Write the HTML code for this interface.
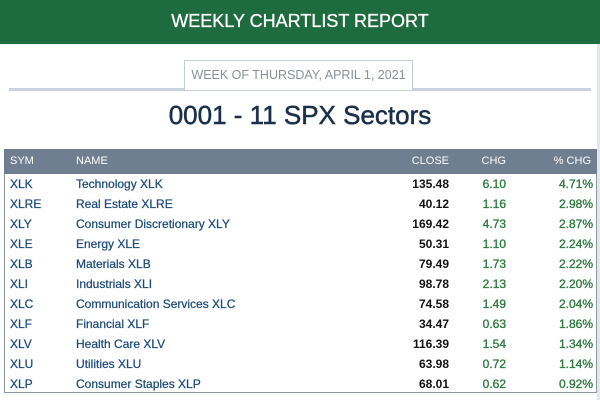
<!DOCTYPE html>
<html><head><meta charset="utf-8"><style>
body{margin:0;width:600px;height:400px;background:#fff;font-family:"Liberation Sans",sans-serif;overflow:hidden;position:relative}
#hdr{position:absolute;left:0;top:0;width:600px;height:44px;background:#1e6b3f;color:#fff;font-size:18px;text-align:center;line-height:42px;-webkit-text-stroke:0.3px #fff}
#rs{position:absolute;right:0;top:44px;width:3px;height:356px;background:#e4e6e8}
#rule{position:absolute;left:9px;top:88px;width:582px;height:3px;background:#c9d1da}
#date{position:absolute;left:184px;top:60px;width:227px;height:29px;border:1px solid #c3ccd6;border-bottom:none;background:#fff;color:#8a9099;font-size:12.5px;text-align:center;line-height:29px}
#title{position:absolute;left:0;width:600px;top:100px;text-align:center;font-size:26px;color:#1b2f4a;-webkit-text-stroke:0.5px #1b2f4a}
#tbl{position:absolute;left:4px;top:149px;width:591px;height:243px;border:1px solid #8c97a3;border-top:none}
#th{position:absolute;left:4px;top:149px;width:593px;height:25px;background:#6f7e90;color:#fff;font-size:11px}
.c{position:absolute}
.row{position:absolute;left:0;width:600px;height:20px;font-size:12px;line-height:20px}
.sym,.nm{color:#1d4a7a;-webkit-text-stroke:0.25px #1d4a7a}.cl{color:#111;font-weight:bold}.g{color:#2c7a3e;-webkit-text-stroke:0.35px #2c7a3e}
</style></head><body>
<div id="hdr">WEEKLY CHARTLIST REPORT</div>
<div id="rs"></div>
<div id="rule"></div>
<div id="date">WEEK OF THURSDAY, APRIL 1, 2021</div>
<div id="title">0001 - 11 SPX Sectors</div>
<div id="tbl"></div>
<div id="th">
<span class="c" style="left:6px;top:6px">SYM</span>
<span class="c" style="left:72px;top:6px">NAME</span>
<span class="c" style="right:148px;top:6px">CLOSE</span>
<span class="c" style="right:91px;top:6px">CHG</span>
<span class="c" style="right:6px;top:6px">% CHG</span>
</div>
<div id="rows"></div>
<script>
const syms=["XLK","XLRE","XLY","XLE","XLB","XLI","XLC","XLF","XLV","XLU","XLP"];
const names=["Technology XLK","Real Estate XLRE","Consumer Discretionary XLY","Energy XLE","Materials XLB","Industrials XLI","Communication Services XLC","Financial XLF","Health Care XLV","Utilities XLU","Consumer Staples XLP"];
const closes=["135.48","40.12","169.42","50.31","79.49","98.78","74.58","34.47","116.39","63.98","68.01"];
const chgs=["6.10","1.16","4.73","1.10","1.73","2.13","1.49","0.63","1.54","0.72","0.62"];
const pcts=["4.71%","2.98%","2.87%","2.24%","2.22%","2.20%","2.04%","1.86%","1.34%","1.14%","0.92%"];
const R=document.getElementById('rows');
syms.forEach((s,i)=>{
const r=document.createElement('div');r.className='row';r.style.top=(174+i*20)+'px';


const mk=(cls,txt,st,nm)=>{const e=document.createElement('span');e.className='c '+cls;e.textContent=txt;e.setAttribute('style',st);


r.appendChild(e);};
mk('sym',s,'left:10px','symbol');
mk('nm',names[i],'left:76px','name');
mk('cl',closes[i],'right:151px','close');
mk('g',chgs[i],'right:94px','change');
mk('g',pcts[i],'right:7px','pct-change');
R.appendChild(r);});
</script>
</body></html>
